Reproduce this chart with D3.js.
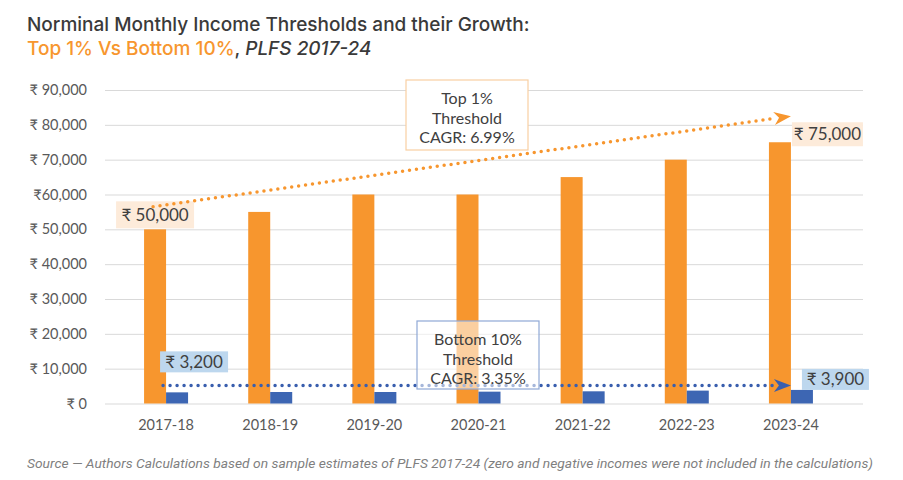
<!DOCTYPE html>
<html>
<head>
<meta charset="utf-8">
<script src="https://cdn.jsdelivr.net/npm/d3@7"></script>
<style>
  body { margin: 0; background: #fff; }
  text { font-family: Lato, "Noto Sans", sans-serif; }
</style>
</head>
<body>
<svg id="chart"></svg>
<script>
// data
var years = ["2017-18", "2018-19", "2019-20", "2020-21", "2021-22", "2022-23", "2023-24"];
var top1 = [50000, 55000, 60000, 60000, 65000, 70000, 75000];
var bottom10 = [3200, 3300, 3300, 3400, 3500, 3700, 3900];
var yTicks = [0, 10000, 20000, 30000, 40000, 50000, 60000, 70000, 80000, 90000];
var yTickLabels = ["₹ 0", "₹ 10,000", "₹ 20,000", "₹ 30,000", "₹ 40,000", "₹ 50,000", "₹60,000", "₹ 70,000", "₹ 80,000", "₹ 90,000"];
// trend arrows: [start value, end value]
var topTrend = [56500, 82500];
var bottomTrend = [5200, 5200];
var topCagr = ["Top 1%", "Threshold", "CAGR: 6.99%"];
var bottomCagr = ["Bottom 10%", "Threshold", "CAGR: 3.35%"];

var width = 903, height = 480;
var orange = "#F7962E", blue = "#3D66B3";

var svg = d3.select("#chart").attr("width", width).attr("height", height);

var x = d3.scaleBand().domain(years).range([114, 843]);
var y = d3.scaleLinear().domain([0, 90000]).range([403.5, 90]);
var bw = 22;

// title
var title = svg.append("text").attr("x", 27).attr("y", 31)
  .style("font-family", "Inter, sans-serif")
  .style("font-size", "19px").style("font-weight", 500).attr("fill", "#3a3a3a");
title.text("Norminal Monthly Income Thresholds and their Growth:");
var sub = svg.append("text").attr("x", 27).attr("y", 55)
  .style("font-family", "Inter, sans-serif")
  .style("font-size", "19px").style("font-weight", 500).attr("fill", "#3a3a3a");
sub.append("tspan").attr("fill", orange).text("Top 1% Vs Bottom 10%");
sub.append("tspan").text(", ");
sub.append("tspan").style("font-style", "italic").text("PLFS 2017-24");

// gridlines + y labels
var yAxis = d3.axisLeft(y).tickValues(yTicks).tickSize(-(863 - 105))
  .tickFormat(function(d, i) { return yTickLabels[i]; });
var gy = svg.append("g").attr("transform", "translate(105,0)").call(yAxis);
gy.select(".domain").remove();
gy.selectAll(".tick line").attr("stroke", "#d9d9d9");
gy.selectAll(".tick text").attr("x", -18).attr("fill", "#595959")
  .style("font-size", "14.5px").style("font-family", "Lato, sans-serif");

// x labels
var xAxis = d3.axisBottom(x).tickSize(0).tickPadding(0);
var gx = svg.append("g").attr("transform", "translate(0,420)").call(xAxis);
gx.select(".domain").remove();
gx.selectAll(".tick text").attr("fill", "#595959")
  .style("font-size", "14.5px").style("font-family", "Lato, sans-serif");

function cx(d) { return x(d) + x.bandwidth() / 2; }

// bars
svg.append("g").selectAll("rect").data(years).enter().append("rect")
  .attr("x", function(d) { return cx(d) - bw; })
  .attr("y", function(d, i) { return y(top1[i]); })
  .attr("width", bw)
  .attr("height", function(d, i) { return y(0) - y(top1[i]); })
  .attr("fill", orange);
svg.append("g").selectAll("rect").data(years).enter().append("rect")
  .attr("x", function(d) { return cx(d); })
  .attr("y", function(d, i) { return y(bottom10[i]); })
  .attr("width", bw)
  .attr("height", function(d, i) { return y(0) - y(bottom10[i]); })
  .attr("fill", blue);

// dotted trend arrow
function arrow(x1, y1, x2, y2, color) {
  var ang = Math.atan2(y2 - y1, x2 - x1), len = 17, half = 6.5;
  var bx = x2 - len * Math.cos(ang), by = y2 - len * Math.sin(ang);
  svg.append("line").attr("x1", x1).attr("y1", y1).attr("x2", bx).attr("y2", by)
    .attr("stroke", color).attr("stroke-width", 3.5)
    .attr("stroke-linecap", "round").attr("stroke-dasharray", "0,7");
  var pts = [
    [x2, y2],
    [bx + half * Math.sin(ang), by - half * Math.cos(ang)],
    [bx + 5 * Math.cos(ang), by + 5 * Math.sin(ang)],
    [bx - half * Math.sin(ang), by + half * Math.cos(ang)]
  ];
  svg.append("path").attr("d", "M" + pts.join("L") + "Z").attr("fill", color);
}

// value labels with coloured backgrounds
function valueLabel(x0, y0, w, h, fill, txt) {
  svg.append("rect").attr("x", x0).attr("y", y0).attr("width", w).attr("height", h).attr("fill", fill);
  svg.append("text").attr("x", x0 + w / 2).attr("y", y0 + h / 2 + 6)
    .attr("text-anchor", "middle").attr("fill", "#404040")
    .style("font-size", "17px").text(txt);
}

var first = years[0], last = years[years.length - 1];
valueLabel(cx(first) - 50, y(top1[0]) - 28, 78, 27, "#FDEBDA", "₹ 50,000");
valueLabel(cx(last) + 1, y(top1[6]) - 20, 71, 24, "#FDEBDA", "₹ 75,000");
arrow(cx(first) - 13, y(topTrend[0]), cx(last), y(topTrend[1]), orange);

valueLabel(cx(first) - 6, y(bottom10[0]) - 41, 68, 21, "#BDD7EE", "₹ 3,200");
valueLabel(cx(last) + 11, y(bottom10[6]) - 21, 67, 21, "#BDD7EE", "₹ 3,900");
arrow(cx(first) - 3, y(bottomTrend[0]), cx(last), y(bottomTrend[1]), "#3A5FAE");

// CAGR callouts
function callout(x0, y0, w, h, stroke, fill, lines) {
  svg.append("rect").attr("x", x0).attr("y", y0).attr("width", w).attr("height", h)
    .attr("fill", fill).attr("stroke", stroke).attr("stroke-width", 1.2);
  svg.append("g").selectAll("text").data(lines).enter().append("text")
    .attr("x", x0 + w / 2).attr("y", function(d, i) { return y0 + 24 + i * 19.5; })
    .attr("text-anchor", "middle").attr("fill", "#404040")
    .style("font-size", "16px").text(function(d) { return d; });
}
callout(406, 80, 122, 70, "#F8CFA2", "#fff", topCagr);
callout(417, 321, 122, 68, "#8FA8D6", "rgba(255,255,255,0.55)", bottomCagr);

// source note
svg.append("text").attr("x", 27).attr("y", 468)
  .style("font-family", "Roboto, sans-serif")
  .style("font-size", "13px").style("font-style", "italic").attr("fill", "#7f7f7f")
  .attr("textLength", 846).attr("lengthAdjust", "spacingAndGlyphs")
  .text("Source — Authors Calculations based on sample estimates of PLFS 2017-24 (zero and negative incomes were not included in the calculations)");
</script>
</body>
</html>
